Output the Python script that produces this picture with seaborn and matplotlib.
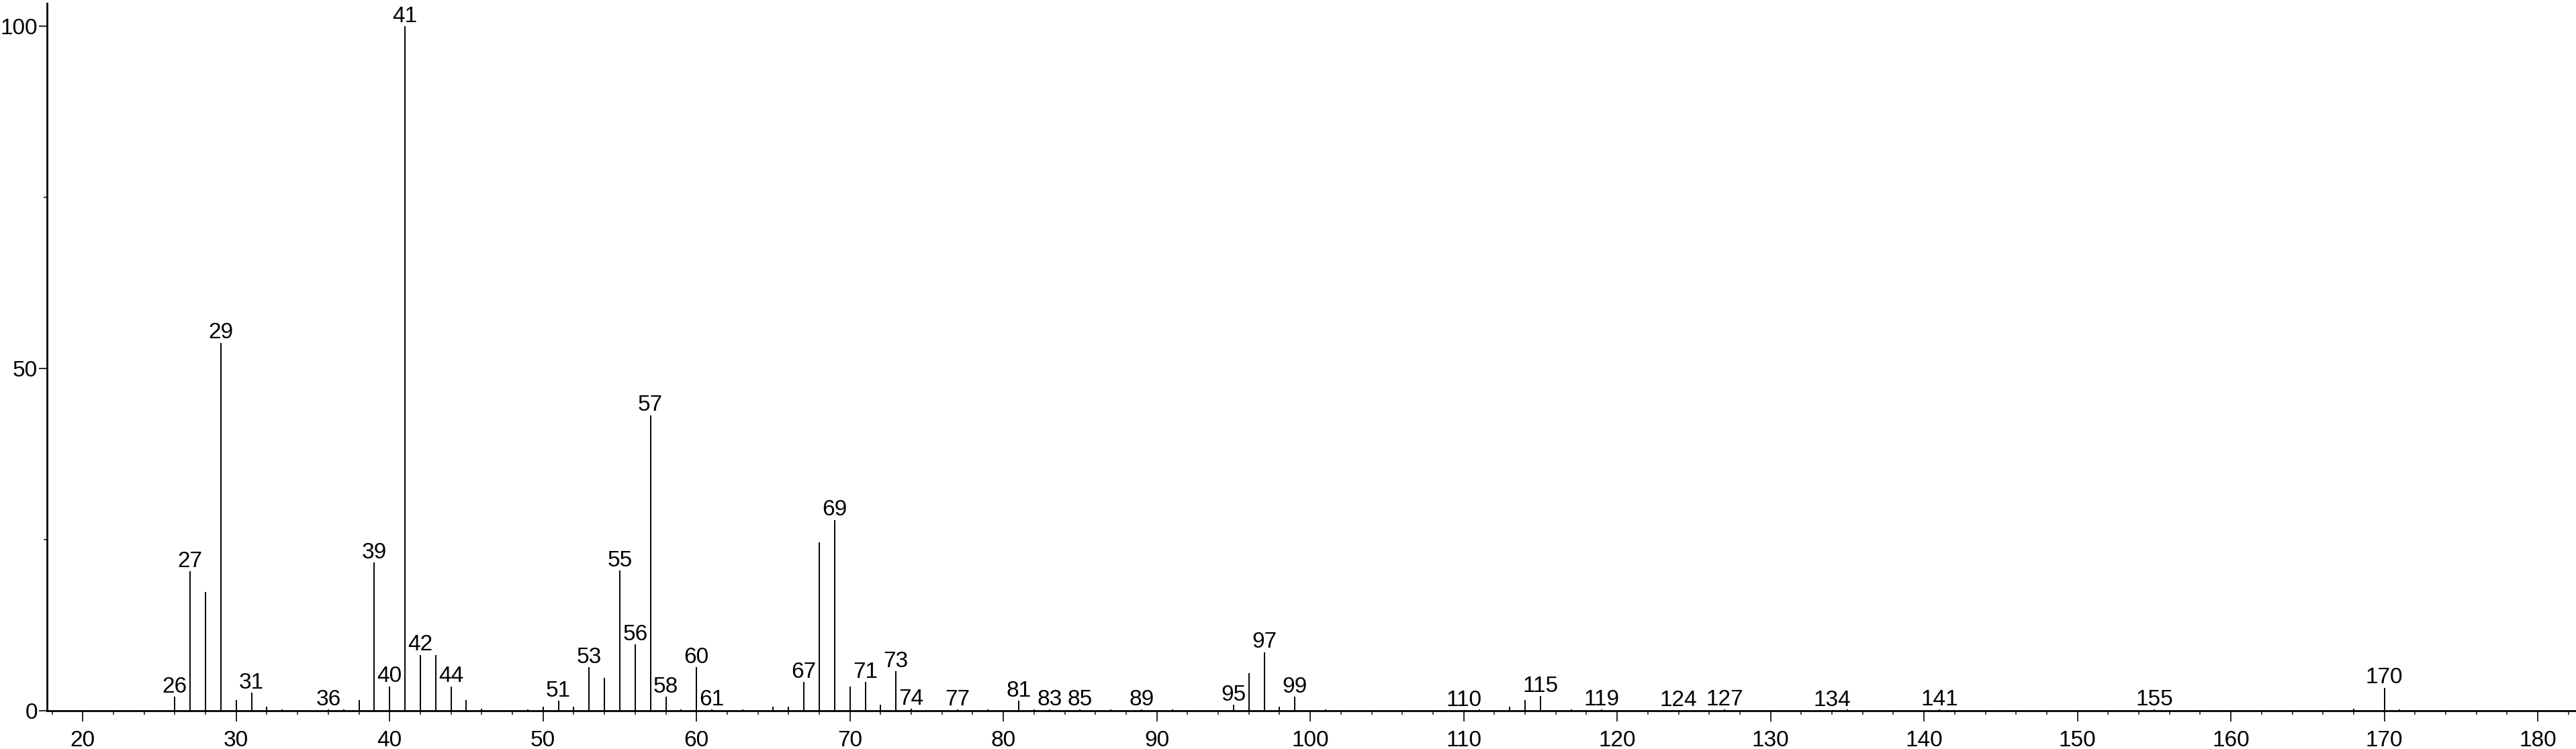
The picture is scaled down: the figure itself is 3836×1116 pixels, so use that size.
import numpy as np
import pandas as pd
import matplotlib
matplotlib.use("Agg")
import matplotlib.pyplot as plt
from matplotlib.ticker import FixedLocator, MultipleLocator
import seaborn as sns

# m/z values and relative intensities (%)
mz = [26, 27, 28, 29, 30, 31, 32, 33, 36, 37, 38, 39, 40, 41, 42, 43, 44, 45, 46,
      49, 50, 51, 52, 53, 54, 55, 56, 57, 58, 59, 60, 61, 63, 65, 66, 67, 68, 69,
      70, 71, 72, 73, 74, 77, 79, 81, 82, 83, 85, 87, 89, 91, 95, 96, 97, 98, 99,
      101, 110, 111, 113, 114, 115, 117, 119, 124, 127, 134, 135, 141, 155, 168,
      170, 171]
intensity = [2.1, 20.4, 17.4, 53.8, 1.6, 2.7, 0.6, 0.25, 0.2, 0.2, 1.6, 21.7, 3.6,
             100.0, 8.2, 8.2, 3.6, 1.6, 0.3,
             0.25, 0.6, 1.5, 0.65, 6.4, 4.8, 20.5, 9.7, 43.2, 2.1, 0.2, 6.4, 0.25,
             0.2, 0.6, 0.65, 4.25, 24.6, 27.9,
             3.6, 4.25, 0.9, 5.8, 0.3, 0.2, 0.2, 1.5, 0.2, 0.2, 0.2, 0.2, 0.2, 0.2,
             0.9, 5.5, 8.6, 0.65, 2.1,
             0.2, 0.15, 0.2, 0.65, 1.6, 2.15, 0.2, 0.2, 0.15, 0.2, 0.15, 0.2, 0.2,
             0.2, 0.3,
             3.4, 0.2]

# peaks that carry an m/z label
labeled_mz = [26, 27, 29, 31, 36, 39, 40, 41, 42, 44, 51, 53, 55, 56, 57, 58, 60,
              61, 67, 69, 71, 73, 74, 77, 81, 83, 85, 89, 95, 97, 99, 110, 115, 119,
              124, 127, 134, 141, 155, 170]

x_major = list(range(20, 190, 10))
y_major = [0, 50, 100]
y_minor = [25, 75]

df = pd.DataFrame({"mz": mz, "intensity": intensity})

sns.set_style("ticks")
plt.rcParams["font.family"] = ["Liberation Sans", "DejaVu Sans"]

fig = plt.figure(figsize=(38.36, 11.16), dpi=100)
ax = fig.add_axes([0.01825, 0.0508, 0.98175, 0.9447])

ax.vlines(df["mz"], 0, df["intensity"], color="black", linewidth=1.4)

heights = dict(zip(df["mz"], df["intensity"]))
for m in labeled_mz:
    ax.annotate(str(m), (m, heights[m]), xytext=(0, 4.5), textcoords="offset points",
                ha="center", va="baseline", fontsize=24, color="black")

ax.set_xlim(17.67, 182.49)
ax.set_ylim(0, 103.36)

ax.xaxis.set_major_locator(FixedLocator(x_major))
ax.xaxis.set_minor_locator(MultipleLocator(2))
ax.yaxis.set_major_locator(FixedLocator(y_major))
ax.yaxis.set_minor_locator(FixedLocator(y_minor))
ax.set_xticklabels([str(v) for v in x_major])
ax.set_yticklabels([str(v) for v in y_major])

ax.tick_params(axis="x", which="major", direction="out", length=11.5, width=1.2,
               pad=9, labelsize=24, colors="black")
ax.tick_params(axis="x", which="minor", direction="out", length=4.3, width=1.2)
ax.tick_params(axis="y", which="major", direction="out", length=9, width=1.2,
               pad=1, labelsize=24, colors="black")
ax.tick_params(axis="y", which="minor", direction="out", length=3.5, width=1.2)

sns.despine(ax=ax)
for side in ["left", "bottom"]:
    ax.spines[side].set_linewidth(2)
    ax.spines[side].set_color("black")

ax.set_xlabel("")
ax.set_ylabel("")

fig.savefig("out.png", dpi=100)
